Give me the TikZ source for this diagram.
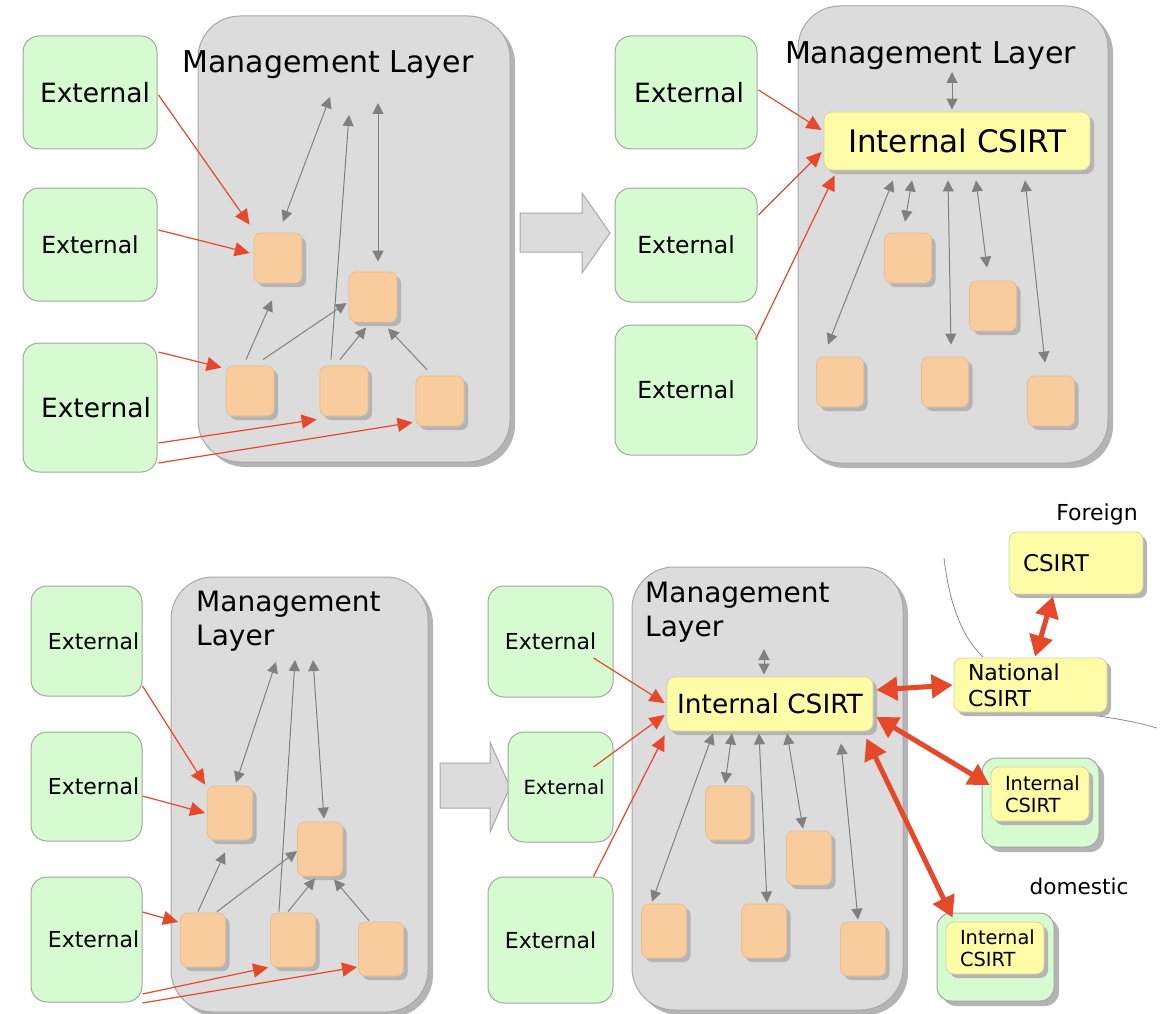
\documentclass[tikz,border=0pt]{standalone}
\usepackage{fontspec}
\setmainfont{DejaVu Sans}
\usetikzlibrary{arrows.meta}

\definecolor{layergray}{HTML}{DCDCDC}
\definecolor{layerline}{HTML}{A8A8A8}
\definecolor{shadowgray}{HTML}{B4B4B4}
\definecolor{extgreen}{HTML}{D6FBD0}
\definecolor{extline}{HTML}{A0A8A0}
\definecolor{unitorange}{HTML}{F8CC9C}
\definecolor{unitline}{HTML}{E6BE94}
\definecolor{csirtyellow}{HTML}{FFFCA8}
\definecolor{csirtline}{HTML}{D4D49C}
\definecolor{flowred}{HTML}{E8482A}
\definecolor{linkgray}{HTML}{808080}
\definecolor{bordergray}{HTML}{8C8C8C}

\newcommand\fsz[2]{\fontsize{#1}{#2}\selectfont}

\begin{document}
\begin{tikzpicture}[
  x=1pt, y=-1pt,
  shadowed/.style={preaction={fill=shadowgray, transform canvas={shift={(#1,-#1)}}}},
  shadowed/.default=4pt,
  box/.style 2 args={minimum width=#1pt, minimum height=#2pt},
  nudge/.style={execute at begin node={\hspace*{#1pt}}},
  layer/.style={rectangle, fill=layergray, draw=layerline, line width=1pt,
    rounded corners=42pt, shadowed=5pt, inner sep=0pt},
  ext/.style={rectangle, fill=extgreen, draw=extline, line width=1pt,
    rounded corners=16pt, inner sep=0pt},
  unit/.style={rectangle, fill=unitorange, draw=unitline, line width=0.8pt,
    rounded corners=7pt, shadowed=4pt, inner sep=0pt},
  csirt/.style={rectangle, fill=csirtyellow, draw=csirtline, line width=0.8pt,
    rounded corners=8pt, shadowed=4pt, inner sep=0pt},
  domainbox/.style={rectangle, fill=extgreen, draw=extline, line width=1pt,
    rounded corners=14pt, shadowed=5pt, inner sep=0pt},
  title/.style={inner sep=0pt},
  link/.style={draw=linkgray, line width=1pt, -{Triangle[length=11pt,width=11pt]}},
  link2/.style={draw=linkgray, line width=1pt,
    {Triangle[length=11pt,width=11pt]}-{Triangle[length=11pt,width=11pt]}},
  feed/.style={draw=flowred, line width=1.2pt, -{Triangle[length=15pt,width=14pt]}},
  bigflow/.style={draw=flowred, line width=5pt,
    {Triangle[length=21pt,width=23pt]}-{Triangle[length=21pt,width=23pt]}},
  border/.style={draw=bordergray, line width=0.8pt},
  blockarrow/.style={fill=layergray, draw=layerline, line width=1pt}
]
\useasboundingbox (0,0) rectangle (1162,1014);
\fill[white] (0,0) rectangle (1162,1014);

% ---------- transition arrows ----------
\draw[blockarrow] (520,213) -- (582,213) -- (582,193) -- (610,233) -- (582,273)
  -- (582,252) -- (520,252) -- cycle;
\draw[blockarrow] (440,763) -- (490,763) -- (490,742) -- (510,787) -- (490,832)
  -- (490,808) -- (440,808) -- cycle;

% ================= top left: before =================
\node[layer, box={312}{446}] (tlML) at (354,239) {};
\node[ext, box={134}{113}, nudge=10, font=\fsz{26.5}{32}] (tlE1) at (90,92.5) {External};
\node[ext, box={134}{113}, font=\fsz{23.5}{28}] (tlE2) at (90,244.5) {External};
\node[ext, box={134}{129}, nudge=12, font=\fsz{26.5}{32}] (tlE3) at (90,407.5) {External};
\node[title, font=\fsz{30}{36}] (tlTitle) at (328,65) {Management Layer};

\node[unit, box={48}{50}] (tlO1) at (278,258) {};
\node[unit, box={48}{50}] (tlO2) at (373,297) {};
\node[unit, box={48}{50}] (tlO3) at (250,391) {};
\node[unit, box={48}{50}] (tlO4) at (344,391) {};
\node[unit, box={48}{50}] (tlO5) at (440,401) {};

\coordinate (tlUp1) at (330,97);
\coordinate (tlUp2) at (349,115);
\coordinate (tlUp3) at (378,103);

\draw[link2] ([shift={(5,-11)}]tlO1.north) -- (tlUp1);
\draw[link] ([shift={(-13,-6)}]tlO4.north) -- (tlUp2);
\draw[link2] (tlUp3) -- ([shift={(5,-10)}]tlO2.north);
\draw[link] ([shift={(-4,-6)}]tlO3.north) -- ([shift={(-6,17)}]tlO1.south);
\draw[link] ([shift={(13,-6)}]tlO3.north) -- ([shift={(-2,6)}]tlO2.west);
\draw[link] ([shift={(-4,-6)}]tlO4.north) -- ([shift={(-7,5)}]tlO2.south);
\draw[link] ([shift={(-13,-6)}]tlO5.north) -- ([shift={(15,6)}]tlO2.south);

\draw[feed] ([shift={(1,2.5)}]tlE1.east) -- ([shift={(-4,-8)}]tlO1.north west);
\draw[feed] ([shift={(1,-14.5)}]tlE2.east) -- ([shift={(-4,-5)}]tlO1.west);
\draw[feed] ([shift={(1,-55.5)}]tlE3.east) -- ([shift={(-4,2)}]tlO3.north west);
\draw[feed] ([shift={(1,35.5)}]tlE3.east) -- ([shift={(-3,3)}]tlO4.south west);
\draw[feed] ([shift={(1,55.5)}]tlE3.east) -- ([shift={(-3,-4)}]tlO5.south west);

% ================= top right: with internal CSIRT =================
\node[layer, box={310}{457}] (trML) at (953,234.5) {};
\node[ext, box={142}{113}, nudge=6, font=\fsz{26.5}{32}] (trE1) at (686,92.5) {External};
\node[ext, box={142}{114}, font=\fsz{23.5}{28}] (trE2) at (686,245) {External};
\node[ext, box={142}{130}, font=\fsz{23.5}{28}] (trE3) at (686,390) {External};
\node[title, font=\fsz{30}{36}] (trTitle) at (930.5,56) {Management Layer};
\node[csirt, box={266}{58}, font=\fsz{31}{37}] (trCS) at (957,141) {Internal CSIRT};

\node[unit, box={47}{50}] (trP1) at (908,258) {};
\node[unit, box={47}{50}] (trP2) at (993,306) {};
\node[unit, box={47}{50}] (trP3) at (840,382) {};
\node[unit, box={47}{50}] (trP4) at (945,382) {};
\node[unit, box={47}{50}] (trP5) at (1051,401) {};

\coordinate (trUp) at (952,72);
\draw[link2] (trUp) -- ([shift={(-5,-2)}]trCS.north);
\draw[link2] ([shift={(-64,10)}]trCS.south) -- ([shift={(-12,-12)}]trP3.north);
\draw[link2] ([shift={(-45,10)}]trCS.south) -- ([shift={(-3,-11)}]trP1.north);
\draw[link2] ([shift={(-9,10)}]trCS.south) -- ([shift={(6,-12)}]trP4.north);
\draw[link2] ([shift={(19,10)}]trCS.south) -- ([shift={(-6,-13)}]trP2.north);
\draw[link2] ([shift={(68,10)}]trCS.south) -- ([shift={(-6,-13)}]trP5.north);

\draw[feed] ([shift={(1,-2.5)}]trE1.east) -- ([shift={(-2,-11)}]trCS.west);
\draw[feed] ([shift={(1,-30)}]trE2.east) -- ([shift={(-2,11)}]trCS.west);
\draw[feed] ([shift={(-2,15)}]trE3.north east) -- ([shift={(11,5)}]trCS.south west);

% ================= bottom left: before =================
\node[layer, box={257}{435}] (blML) at (299.5,794.5) {};
\node[ext, box={111}{110}, nudge=14, font=\fsz{22}{26}] (blE1) at (86.5,641) {External};
\node[ext, box={111}{109}, nudge=14, font=\fsz{22}{26}] (blE2) at (86.5,786.5) {External};
\node[ext, box={111}{125}, nudge=14, font=\fsz{22}{26}] (blE3) at (86.5,939.5) {External};
\node[title, anchor=west, align=left, font=\fsz{28}{34}] (blTitle) at (196,621) {Management\\Layer};

\node[unit, box={45}{54}] (blQ1) at (230,813) {};
\node[unit, box={45}{54}] (blQ2) at (320,849) {};
\node[unit, box={45}{54}] (blQ3) at (203,940) {};
\node[unit, box={45}{54}] (blQ4) at (293,940) {};
\node[unit, box={45}{54}] (blQ5) at (381,949) {};

\coordinate (blUp1) at (276,662);
\coordinate (blUp2) at (295,660);
\coordinate (blUp3) at (313,660);

\draw[link2] ([shift={(6,-3)}]blQ1.north) -- (blUp1);
\draw[link] ([shift={(-14,-1)}]blQ4.north) -- (blUp2);
\draw[link2] (blUp3) -- ([shift={(4,-3)}]blQ2.north);
\draw[link] ([shift={(-5,-1)}]blQ3.north) -- ([shift={(-5,12)}]blQ1.south);
\draw[link] ([shift={(14,-1)}]blQ3.north) -- ([shift={(0,2)}]blQ2.west);
\draw[link] ([shift={(-5,-1)}]blQ4.north) -- ([shift={(-5,2)}]blQ2.south);
\draw[link] ([shift={(-12,-1)}]blQ5.north) -- ([shift={(14,3)}]blQ2.south);

\draw[feed] ([shift={(0,45)}]blE1.east) -- ([shift={(-2,-1)}]blQ1.north west);
\draw[feed] ([shift={(0,9.5)}]blE2.east) -- ([shift={(-2,0)}]blQ1.west);
\draw[feed] ([shift={(0,-27.5)}]blE3.east) -- ([shift={(-2,-18)}]blQ3.west);
\draw[feed] ([shift={(0,54.5)}]blE3.east) -- ([shift={(-2,0)}]blQ4.south west);
\draw[feed] ([shift={(0,63.5)}]blE3.east) -- ([shift={(-1,18)}]blQ5.west);

% ================= bottom middle: with internal CSIRT =================
\node[layer, box={271}{443}] (bmML) at (767.5,788.5) {};
\node[ext, box={125}{111}, font=\fsz{22}{26}] (bmE1) at (550.5,641.5) {External};
\node[ext, box={105}{110}, nudge=7, font=\fsz{19.5}{23}] (bmE2) at (560.5,787) {External};
\node[ext, box={125}{126}, font=\fsz{22}{26}] (bmE3) at (550.5,940) {External};
\node[title, anchor=west, align=left, font=\fsz{28}{34}] (bmTitle) at (645,612) {Management\\Layer};
\node[csirt, box={206}{54}, font=\fsz{26.4}{32}] (bmCS) at (770,704) {Internal CSIRT};

\node[unit, box={45}{54}] (bmS1) at (728,813) {};
\node[unit, box={45}{54}] (bmS2) at (809,858) {};
\node[unit, box={45}{54}] (bmS3) at (664,931) {};
\node[unit, box={45}{54}] (bmS4) at (764,931) {};
\node[unit, box={45}{54}] (bmS5) at (863,949) {};

\coordinate (bmUp) at (764,649);
\draw[link2] (bmUp) -- ([shift={(-6,-2)}]bmCS.north);
\draw[link2] ([shift={(-57,2)}]bmCS.south) -- ([shift={(-12,-2)}]bmS3.north);
\draw[link2] ([shift={(-38,2)}]bmCS.south) -- ([shift={(-3,-2)}]bmS1.north);
\draw[link2] ([shift={(-11,2)}]bmCS.south) -- ([shift={(3,-1)}]bmS4.north);
\draw[link2] ([shift={(17,2)}]bmCS.south) -- ([shift={(-6,-2)}]bmS2.north);
\draw[link2] ([shift={(71,12)}]bmCS.south) -- ([shift={(-5,-2)}]bmS5.north);

\draw[feed] ([shift={(-20,16.5)}]bmE1.east) -- ([shift={(-2,-1)}]bmCS.west);
\draw[feed] ([shift={(-20,-20)}]bmE2.east) -- ([shift={(-2,11)}]bmCS.west);
\draw[feed] ([shift={(-20,0)}]bmE3.north east) -- ([shift={(-2,4)}]bmCS.south west);

% ================= CSIRT network =================
\draw[border, draw=linkgray!90] (944,558) .. controls (950,610) and (965,640) .. (983,657);
\draw[border, draw=linkgray!90] (1068,712) .. controls (1100,716) and (1130,720) .. (1157,728);

\node[title, font=\fsz{22}{26}] (fgnLabel) at (1097,514) {Foreign};
\node[csirt, box={134}{62}, inner xsep=14pt, text width=106pt, align=left,
  font=\fsz{23}{27}] (fgn) at (1076,563) {CSIRT};
\node[csirt, box={153}{54}, inner xsep=14pt, text width=125pt, align=left,
  font=\fsz{22}{26}] (natl) at (1030.5,685) {National\\CSIRT};

\node[domainbox, box={117}{89}] (dom1) at (1040.5,802.5) {};
\node[csirt, box={98}{54}, inner xsep=14pt, text width=70pt, align=left,
  font=\fsz{19.4}{22}] (dom1in) at (1040,794) {Internal\\CSIRT};
\node[domainbox, box={117}{88}] (dom2) at (995.5,957) {};
\node[csirt, box={98}{52}, inner xsep=14pt, text width=70pt, align=left,
  font=\fsz{19.4}{22}] (dom2in) at (995,948) {Internal\\CSIRT};
\node[title, font=\fsz{21.6}{26}] (domLabel) at (1079,886) {domestic};

\draw[bigflow] ([shift={(-23,2)}]fgn.south) -- ([shift={(4.5,-1)}]natl.north);
\draw[bigflow] ([shift={(3,-14)}]bmCS.east) -- ([shift={(-1,0)}]natl.west);
\draw[bigflow] ([shift={(3,13)}]bmCS.east) -- ([shift={(-1,-9)}]dom1in.west);
\draw[bigflow] ([shift={(-7,7)}]bmCS.south east) -- ([shift={(7,-4)}]dom2in.north west);

\end{tikzpicture}
\end{document}
